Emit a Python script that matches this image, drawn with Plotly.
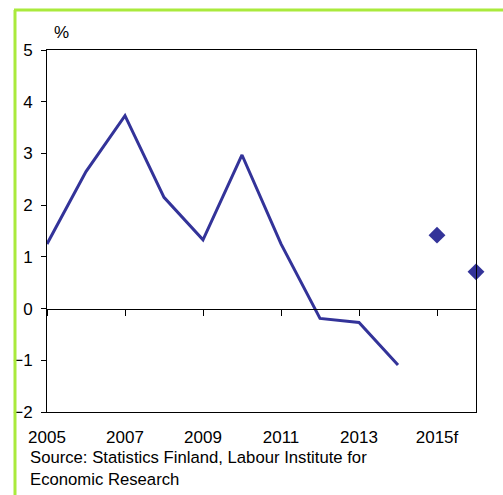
import plotly.graph_objects as go

# Annual change, %
years = [2005, 2006, 2007, 2008, 2009, 2010, 2011, 2012, 2013, 2014]
values = [1.25, 2.65, 3.73, 2.15, 1.33, 2.97, 1.25, -0.19, -0.27, -1.09]

# Forecasts
fc_years = [2015, 2016]
fc_values = [1.42, 0.71]

tick_years = [2005, 2007, 2009, 2011, 2013, 2015]
tick_labels = ["2005", "2007", "2009", "2011", "2013", "2015f"]

y_ticks = [-2, -1, 0, 1, 2, 3, 4, 5]

blue = "rgb(51,51,153)"
green = "rgb(170,234,60)"
font = dict(family="Liberation Sans, Arial, sans-serif", size=17, color="black")

W, H = 503, 495
ml, mr, mt, mb = 47, 27, 50, 83
pw, ph = W - ml - mr, H - mt - mb

fig = go.Figure()
fig.add_trace(go.Scatter(x=years, y=values, mode="lines",
                         line=dict(color=blue, width=3), showlegend=False))
fig.add_trace(go.Scatter(x=fc_years, y=fc_values, mode="markers",
                         marker=dict(symbol="diamond", size=13, color=blue),
                         showlegend=False, cliponaxis=False))
# invisible trace carrying the axis that runs along y = 0
fig.add_trace(go.Scatter(x=[2005, 2016], y=[0, 0], xaxis="x2", mode="lines",
                         line=dict(width=0), hoverinfo="skip", showlegend=False))

fig.update_layout(
    width=W, height=H,
    margin=dict(l=ml, r=mr, t=mt, b=mb),
    paper_bgcolor="white", plot_bgcolor="white",
    font=font,
    xaxis=dict(range=[2005, 2016], tickvals=tick_years, ticktext=tick_labels,
               ticks="", showgrid=False, zeroline=False,
               showline=True, linecolor="black", linewidth=1, mirror=True,
               ticklabelstandoff=10),
    xaxis2=dict(range=[2005, 2016], overlaying="x", anchor="free",
                position=2 / 7, side="bottom", tickvals=tick_years,
                showticklabels=False, ticks="outside", ticklen=6,
                tickcolor="black", showgrid=False, zeroline=False,
                showline=True, linecolor="black", linewidth=1),
    yaxis=dict(range=[-2, 5], tickvals=y_ticks, ticks="outside", ticklen=5,
               tickcolor="black", showgrid=False, zeroline=False,
               showline=True, linecolor="black", linewidth=1, mirror=True,
               ticklabelstandoff=5),
)

fig.add_annotation(text="%", xref="paper", yref="paper", x=(52 - ml) / pw,
                   y=1, yshift=6, xanchor="left", yanchor="bottom",
                   showarrow=False, font=font)
fig.add_annotation(text="Source: Statistics Finland, Labour Institute for<br>Economic Research",
                   xref="paper", yref="paper", x=(28 - ml) / pw,
                   y=0, yshift=-34, xanchor="left", yanchor="top", align="left",
                   showarrow=False, font=dict(font, size=16.7))

# light green frame at the top and left edge
fig.add_shape(type="line", xref="paper", yref="paper",
              x0=(14 - ml) / pw, x1=(W + 5 - ml) / pw,
              y0=(H - mb - 10) / ph, y1=(H - mb - 10) / ph,
              line=dict(color=green, width=3))
fig.add_shape(type="line", xref="paper", yref="paper",
              x0=(15 - ml) / pw, x1=(15 - ml) / pw,
              y0=(H - mb - 10) / ph, y1=(H - mb - H - 5) / ph,
              line=dict(color=green, width=3))

fig.write_html("out.html")
